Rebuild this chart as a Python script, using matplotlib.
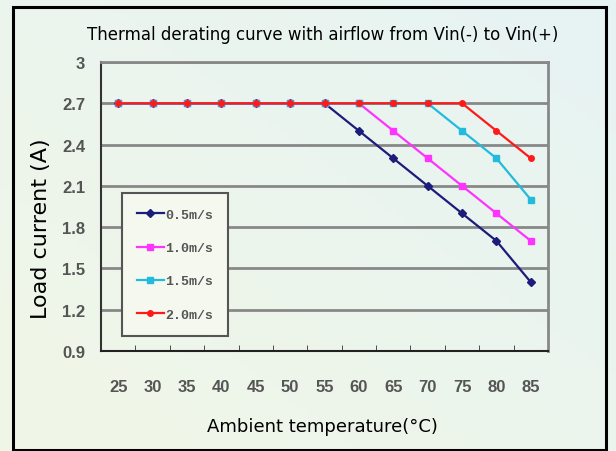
import numpy as np
import matplotlib
matplotlib.use("Agg")
import matplotlib.pyplot as plt
from matplotlib.patches import Rectangle

# data
temps = ["25", "30", "35", "40", "45", "50", "55", "60", "65", "70", "75", "80", "85"]
air_05 = [2.7, 2.7, 2.7, 2.7, 2.7, 2.7, 2.7, 2.5, 2.3, 2.1, 1.9, 1.7, 1.4]
air_10 = [2.7, 2.7, 2.7, 2.7, 2.7, 2.7, 2.7, 2.7, 2.5, 2.3, 2.1, 1.9, 1.7]
air_15 = [2.7, 2.7, 2.7, 2.7, 2.7, 2.7, 2.7, 2.7, 2.7, 2.7, 2.5, 2.3, 2.0]
air_20 = [2.7, 2.7, 2.7, 2.7, 2.7, 2.7, 2.7, 2.7, 2.7, 2.7, 2.7, 2.5, 2.3]
labels = ["0.5m/s", "1.0m/s", "1.5m/s", "2.0m/s"]
yticks = [0.9, 1.2, 1.5, 1.8, 2.1, 2.4, 2.7, 3.0]
ytick_labels = ["0.9", "1.2", "1.5", "1.8", "2.1", "2.4", "2.7", "3"]

W, H = 616, 452
fig = plt.figure(figsize=(W / 100, H / 100), dpi=100)

# pale gradient background
bg = fig.add_axes([0, 0, 1, 1], zorder=-5)
gx, gy = np.meshgrid(np.linspace(0, 1, 64), np.linspace(0, 1, 64))
t = (gx + (1 - gy)) / 2
c0 = np.array([0.945, 0.968, 0.905])
c1 = np.array([0.905, 0.955, 0.955])
img = c0[None, None, :] * (1 - t[..., None]) + c1[None, None, :] * t[..., None]
bg.imshow(img, extent=[0, 1, 0, 1], aspect="auto", origin="upper")
bg.set_axis_off()
bg.add_patch(Rectangle((13 / W, 1 - 451 / H), (606 - 13) / W, (451 - 8) / H,
                       fill=False, lw=2.2, ec="black", transform=bg.transAxes))

ax = fig.add_axes([101 / W, 1 - 352 / H, (548 - 101) / W, (352 - 63) / H])
ax.patch.set_alpha(0)

x = np.arange(len(temps))
styles = [
    (air_05, "#1c1c7a", "D"),
    (air_10, "#ff33ff", "s"),
    (air_15, "#22bbdd", "s"),
    (air_20, "#ff1a1a", "o"),
]
for (vals, col, mk), lab in zip(styles, labels):
    ax.plot(x, vals, color=col, lw=1.6, marker=mk, ms=4, mfc=col, mec=col, label=lab, zorder=3)

tick_font = dict(family="Liberation Sans", fontweight="bold", fontsize=12, color="#555555")
ax.set_xlim(-0.5, len(temps) - 0.5)
ax.set_ylim(0.9, 3.0)
ax.set_yticks(yticks)
ax.set_yticklabels(ytick_labels, **tick_font)
ax.set_xticks(x)
ax.set_xticklabels(temps, **tick_font)
ax.set_xticks(np.arange(0.5, len(temps) - 0.5), minor=True)
ax.tick_params(axis="x", which="major", length=0, pad=20)
ax.tick_params(axis="x", which="minor", length=4, direction="in", color="#333333")
ax.tick_params(axis="y", length=0, pad=11.5)
ax.grid(axis="y", color="#888888", lw=2)
ax.set_axisbelow(True)
for s in ["top", "right"]:
    ax.spines[s].set_color("#888888")
    ax.spines[s].set_linewidth(2)
ax.spines["left"].set_color("#333333")
ax.spines["bottom"].set_color("#222222")
ax.spines["left"].set_linewidth(1.5)
ax.spines["bottom"].set_linewidth(1.5)

leg = ax.legend(loc="lower left", bbox_to_anchor=(21 / 447, 15 / 289), borderaxespad=0,
                frameon=True, fancybox=False, edgecolor="#555555", framealpha=1,
                facecolor="#f4f8ee",
                prop={"family": "Liberation Mono", "weight": "bold", "size": 9.5},
                handlelength=2.0, handletextpad=0.1, labelspacing=1.6, borderpad=1.15)
leg.get_frame().set_linewidth(1.5)
for txt in leg.get_texts():
    txt.set_color("#555555")

fig.text(323 / W, 1 - 35 / H, "Thermal derating curve with airflow from Vin(-) to Vin(+)",
         ha="center", va="center", fontsize=12, family="DejaVu Sans")
fig.text(41 / W, 1 - 229 / H, "Load current (A)", rotation=90, ha="center", va="center",
         fontsize=16, family="DejaVu Sans")
fig.text(322 / W, 1 - 427 / H, "Ambient temperature(\u00b0C)", ha="center", va="center",
         fontsize=13, family="DejaVu Sans")

fig.savefig("out.png", dpi=100)
